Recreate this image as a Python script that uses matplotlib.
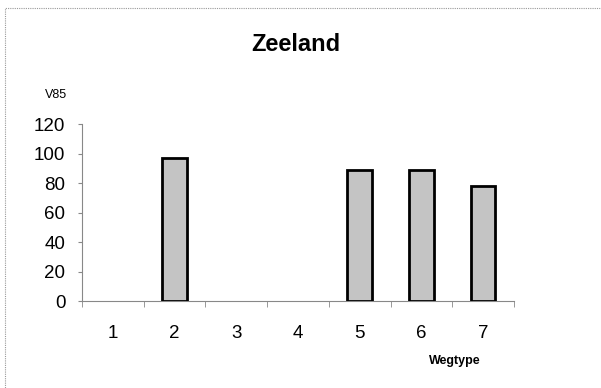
import numpy as np
import matplotlib.pyplot as plt
from matplotlib.patches import Rectangle

plt.rcParams['font.family'] = ['Liberation Sans', 'DejaVu Sans']

# data (V85 per wegtype, Zeeland); types 1, 3, 4 have no value
wegtype = [1, 2, 3, 4, 5, 6, 7]
v85 = [np.nan, 97, np.nan, np.nan, 89, 89, 78]
y_ticks = [0, 20, 40, 60, 80, 100, 120]

fig = plt.figure(figsize=(6.01, 3.88), dpi=100)
ax = fig.add_axes([0.1364, 0.2242, 0.7188, 0.4562])

x = np.array(wegtype, dtype=float)
v = np.array(v85, dtype=float)
ok = ~np.isnan(v)
ax.bar(x[ok], v[ok], width=0.4, color='#c4c4c4', edgecolor='black', linewidth=2, zorder=3)

ax.set_xlim(0.5, 7.5)
ax.set_ylim(0, 120)
ax.set_yticks(y_ticks)
ax.set_xticks(wegtype)
ax.set_xticks(np.arange(0.5, 8.0, 1.0), minor=True)
ax.tick_params(axis='x', which='major', length=0, pad=17, labelsize=13.5)
ax.tick_params(axis='x', which='minor', length=4, direction='out', color='#888888')
ax.tick_params(axis='y', length=3, color='#888888', pad=9, labelsize=13.5)

for s in ['top', 'right']:
    ax.spines[s].set_visible(False)
for s in ['left', 'bottom']:
    ax.spines[s].set_color('#888888')
    ax.spines[s].set_linewidth(0.8)
    ax.spines[s].set_linestyle((0, (2, 1)))

fig.text(0.493, 0.885, 'Zeeland', ha='center', va='center', fontsize=17, fontweight='bold')
fig.text(0.093, 0.755, 'V85', ha='center', va='center', fontsize=9)
fig.text(0.757, 0.07, 'Wegtype', ha='center', va='center', fontsize=9, fontweight='bold')

# dotted frame round the chart
fig.patches.append(Rectangle((0.008, -0.05), 1.2, 1.029, transform=fig.transFigure,
                             fill=False, edgecolor='#999999', linewidth=0.8,
                             linestyle=(0, (1, 1))))

plt.savefig('out.png', dpi=100)
